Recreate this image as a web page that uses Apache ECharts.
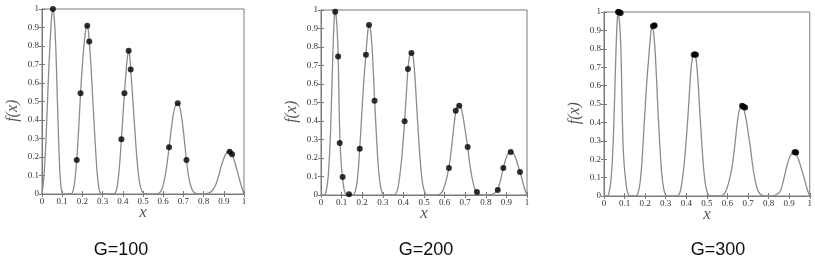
<!DOCTYPE html>
<html>
<head>
<meta charset="utf-8">
<script src="https://cdn.jsdelivr.net/npm/echarts@6/dist/echarts.min.js"></script>
<style>
  html, body { margin: 0; padding: 0; background: #fff; }
  #chart { width: 815px; height: 272px; }
</style>
</head>
<body>
<div id="chart"></div>
<script>
// panel captions
const panelNames = ['G=100', 'G=200', 'G=300']

const curveG100 = [
  [0, 0], [0.01, 0.1], [0.02, 0.3], [0.03, 0.58], [0.04, 0.82], [0.048, 0.96], [0.054, 1.0],
  [0.06, 0.96], [0.068, 0.8], [0.075, 0.55], [0.082, 0.3], [0.088, 0.13], [0.094, 0.04],
  [0.1, 0.005], [0.11, 0], [0.14, 0],
  [0.15, 0.005], [0.16, 0.05], [0.172, 0.184], [0.182, 0.36], [0.191, 0.545], [0.2, 0.7],
  [0.21, 0.83], [0.218, 0.895], [0.224, 0.91], [0.23, 0.88], [0.234, 0.825], [0.242, 0.7],
  [0.252, 0.5], [0.262, 0.3], [0.272, 0.13], [0.282, 0.03], [0.29, 0.003], [0.3, 0],
  [0.35, 0], [0.365, 0.01], [0.375, 0.06], [0.385, 0.17], [0.393, 0.296], [0.4, 0.41],
  [0.408, 0.545], [0.416, 0.66], [0.423, 0.74], [0.429, 0.774], [0.434, 0.75], [0.439, 0.673],
  [0.446, 0.57], [0.455, 0.42], [0.465, 0.26], [0.475, 0.13], [0.485, 0.05], [0.495, 0.015],
  [0.505, 0.003], [0.52, 0],
  [0.56, 0], [0.58, 0.005], [0.595, 0.03], [0.61, 0.1], [0.62, 0.17], [0.629, 0.253],
  [0.64, 0.35], [0.65, 0.43], [0.66, 0.475], [0.672, 0.491], [0.682, 0.47], [0.692, 0.41],
  [0.702, 0.32], [0.715, 0.184], [0.725, 0.1], [0.735, 0.05], [0.745, 0.02], [0.76, 0.003], [0.78, 0],
  [0.8, 0], [0.82, 0.003], [0.84, 0.015], [0.86, 0.05], [0.875, 0.1], [0.89, 0.16],
  [0.905, 0.205], [0.918, 0.228], [0.93, 0.232], [0.941, 0.215], [0.955, 0.17], [0.97, 0.11],
  [0.985, 0.05], [1, 0]
]

const curveG200 = [
  [0, 0], [0.015, 0], [0.025, 0.02], [0.035, 0.1], [0.045, 0.3], [0.052, 0.55], [0.058, 0.78],
  [0.064, 0.95], [0.069, 1.0], [0.075, 0.95], [0.08, 0.86], [0.084, 0.72], [0.088, 0.48],
  [0.092, 0.3], [0.098, 0.17], [0.105, 0.09], [0.112, 0.03], [0.12, 0.005], [0.13, 0],
  [0.155, 0], [0.165, 0.015], [0.175, 0.07], [0.182, 0.15], [0.188, 0.25], [0.196, 0.4],
  [0.205, 0.57], [0.212, 0.68], [0.218, 0.76], [0.226, 0.87], [0.233, 0.92], [0.24, 0.9],
  [0.25, 0.76], [0.26, 0.52], [0.27, 0.3], [0.28, 0.13], [0.29, 0.04], [0.3, 0.005], [0.31, 0],
  [0.35, 0], [0.362, 0.005], [0.372, 0.03], [0.382, 0.1], [0.392, 0.2], [0.4, 0.31],
  [0.406, 0.4], [0.414, 0.54], [0.422, 0.68], [0.43, 0.75], [0.439, 0.77], [0.448, 0.74],
  [0.456, 0.64], [0.465, 0.47], [0.475, 0.29], [0.485, 0.14], [0.495, 0.05], [0.505, 0.012], [0.515, 0],
  [0.56, 0], [0.575, 0.004], [0.59, 0.02], [0.6, 0.05], [0.61, 0.09], [0.621, 0.15],
  [0.63, 0.22], [0.64, 0.32], [0.648, 0.4], [0.656, 0.46], [0.664, 0.48], [0.671, 0.486],
  [0.68, 0.47], [0.69, 0.42], [0.7, 0.35], [0.712, 0.26], [0.722, 0.17], [0.732, 0.1],
  [0.742, 0.05], [0.75, 0.025], [0.758, 0.012], [0.77, 0.003], [0.785, 0],
  [0.81, 0], [0.83, 0.004], [0.845, 0.012], [0.858, 0.028], [0.87, 0.075], [0.885, 0.145],
  [0.897, 0.195], [0.909, 0.225], [0.921, 0.234], [0.933, 0.226], [0.945, 0.2], [0.956, 0.16],
  [0.966, 0.124], [0.977, 0.08], [0.988, 0.035], [1, 0]
]

// population points (black dots)
const dotsG100 = [
  [0.054, 1.0], [0.172, 0.184], [0.191, 0.545], [0.224, 0.91], [0.234, 0.825],
  [0.393, 0.296], [0.408, 0.545], [0.429, 0.774], [0.439, 0.673],
  [0.629, 0.253], [0.672, 0.491], [0.715, 0.184], [0.929, 0.229], [0.941, 0.215]
]
const dotsG200 = [
  [0.069, 0.99], [0.083, 0.748], [0.091, 0.281], [0.105, 0.097], [0.136, 0.004],
  [0.188, 0.25], [0.218, 0.758], [0.233, 0.919], [0.26, 0.51],
  [0.406, 0.398], [0.422, 0.681], [0.439, 0.768],
  [0.621, 0.146], [0.654, 0.456], [0.671, 0.483], [0.712, 0.259], [0.757, 0.016],
  [0.858, 0.027], [0.885, 0.146], [0.921, 0.232], [0.966, 0.124]
]
const dotsG300 = [
  [0.068, 1.0], [0.072, 1.0], [0.077, 0.997], [0.081, 0.994],
  [0.238, 0.922], [0.243, 0.926], [0.246, 0.927],
  [0.436, 0.768], [0.441, 0.77], [0.447, 0.768],
  [0.671, 0.49], [0.676, 0.486], [0.681, 0.483], [0.686, 0.481],
  [0.926, 0.238], [0.931, 0.238], [0.934, 0.236]
]

const curves = [curveG100, curveG200, curveG200]
const dots = [dotsG100, dotsG200, dotsG300]

// plot boxes in px
const boxes = [
  { left: 42, top: 9, width: 202, height: 185 },
  { left: 321, top: 10, width: 206, height: 185 },
  { left: 604, top: 12, width: 206, height: 184 }
]
const captionX = [121, 426, 718]

const serif = '"Liberation Serif", "DejaVu Serif", serif'
const frameColor = '#7a7a7a'

const grid = []
const xAxis = []
const yAxis = []
const series = []
const graphic = []

boxes.forEach((b, i) => {
  grid.push({ ...b, show: true, borderColor: frameColor, borderWidth: 1 })
  const tick = { show: true, inside: true, length: 3, lineStyle: { color: frameColor } }
  const base = {
    type: 'value', gridIndex: i, min: 0, max: 1, interval: 0.1,
    splitLine: { show: false },
    axisLine: { show: true, lineStyle: { color: frameColor } },
    axisTick: tick
  }
  xAxis.push({
    ...base, position: 'bottom',
    axisLabel: { fontFamily: serif, fontSize: 9, color: '#333', margin: 3 }
  })
  xAxis.push({ ...base, position: 'top', axisLabel: { show: false } })
  yAxis.push({
    ...base, position: 'left',
    axisLabel: { fontFamily: serif, fontSize: 9, color: '#333', margin: 3 }
  })
  yAxis.push({ ...base, position: 'right', axisLabel: { show: false } })

  series.push({
    type: 'line', xAxisIndex: i * 2, yAxisIndex: i * 2,
    data: curves[i], showSymbol: false, smooth: 0.25,
    lineStyle: { color: '#8c8c8c', width: 1.3 }, silent: true, z: 2
  })
  series.push({
    type: 'scatter', xAxisIndex: i * 2, yAxisIndex: i * 2,
    data: dots[i], symbolSize: 6,
    itemStyle: { color: '#000' }, z: 3
  })

  // axis titles
  graphic.push({
    type: 'text', x: b.left - 29, y: b.top + b.height * 0.55, rotation: Math.PI / 2,
    style: {
      text: 'f(x)', font: 'italic 16px ' + serif, fill: '#555',
      align: 'center', verticalAlign: 'middle'
    }
  })
  graphic.push({
    type: 'text', x: b.left + b.width / 2, y: b.top + b.height + 19,
    style: {
      text: 'x', font: 'italic 17px ' + serif, fill: '#555',
      align: 'center', verticalAlign: 'middle'
    }
  })
  graphic.push({
    type: 'text', x: captionX[i], y: 250,
    style: {
      text: panelNames[i], font: '18px "Liberation Sans", Arial, sans-serif', fill: '#111',
      align: 'center', verticalAlign: 'middle'
    }
  })
})

const chart = echarts.init(document.getElementById('chart'))
chart.setOption({ animation: false, grid, xAxis, yAxis, series, graphic })
window.addEventListener('resize', () => chart.resize())
</script>
</body>
</html>
